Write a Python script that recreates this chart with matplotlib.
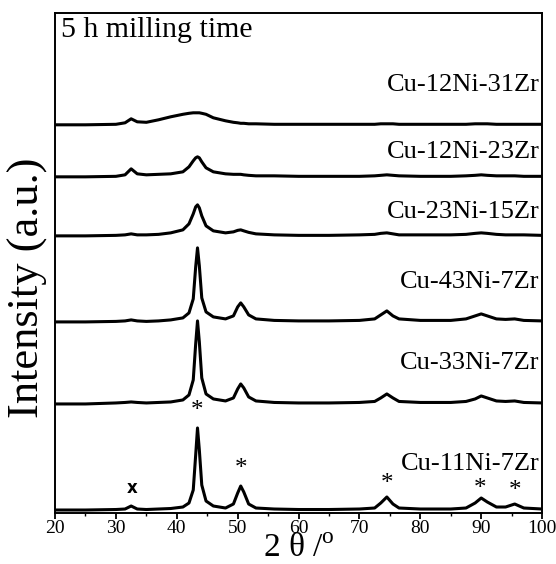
import matplotlib
matplotlib.use("Agg")
import matplotlib.pyplot as plt
from matplotlib.ticker import MultipleLocator

plt.rcParams['font.family'] = ['Liberation Serif', 'DejaVu Serif']
plt.rcParams['mathtext.fontset'] = 'custom'
plt.rcParams['mathtext.rm'] = 'Liberation Serif'

two_theta = [20, 25, 30, 31.5, 32.5, 33.5, 35, 37, 39, 41, 42, 42.7, 43.1, 43.4,
             43.7, 44.1, 44.8, 46, 48, 49.3, 50, 50.5, 51, 51.8, 53, 56, 60, 65,
             70, 72.5, 73.5, 74.5, 75.5, 76.5, 80, 85, 87.5, 89, 90, 91, 92.5, 94,
             95.5, 97, 100]

# intensities above each pattern's own baseline (a.u.)
cu11ni7zr = [0, 0, 0.5, 1, 4, 1, 0.5, 1, 1.5, 3, 7, 20, 55, 82,
             60, 25, 9, 4, 2, 6, 17, 24, 18, 6, 2, 1, 0.5, 0.5,
             1, 2, 7, 13, 6, 2, 1, 1, 2, 7, 12, 8, 3, 3,
             6, 2, 1]
cu33ni7zr = [0, 0, 1, 1.5, 2, 1.5, 1, 1.5, 2, 4, 9, 24, 60, 83,
             62, 26, 10, 5, 3, 6, 15, 20, 16, 7, 3, 1.5, 1, 1,
             1.5, 2.5, 6, 10, 6, 2.5, 1.5, 1.5, 2.5, 5, 8, 6, 3, 2.5,
             3, 1.5, 1]
cu43ni7zr = [0, 0, 0.5, 1, 2, 1, 0.5, 1, 2, 4, 9, 23, 55, 74,
             56, 24, 10, 5, 3, 6, 15, 19, 15, 7, 3, 1.5, 1, 1,
             1.5, 3, 7, 11, 6, 3, 1.5, 1.5, 3, 6, 8, 6, 3, 2.5,
             3, 1.5, 1]
cu23ni15zr = [0, 0, 0.5, 1, 2, 1, 1, 1.5, 3, 6, 12, 22, 29, 31,
              28, 20, 10, 5, 3, 4, 5.5, 6, 5, 3.5, 2, 1, 0.5, 0.5,
              1, 1.5, 2.5, 3, 2, 1, 1, 1, 1.5, 2.5, 3, 2.5, 1.5, 1,
              1, 1, 0.5]
cu12ni23zr = [0, 0, 0.5, 2, 8, 3, 2, 2.5, 3, 5, 10, 16, 19, 20,
              19, 15, 9, 5, 3, 2.5, 2.5, 2.5, 2, 1.5, 1, 1, 0.5, 0.5,
              0.5, 1, 1.5, 2, 1.5, 1, 0.5, 0.5, 1, 1.5, 2, 1.5, 1, 1,
              1, 0.5, 0.5]
cu12ni31zr = [0, 0, 0.5, 2, 6, 3, 2.5, 5, 8, 10.5, 11.5, 12, 12, 12,
              12, 11.5, 10.5, 7, 4, 2.5, 2, 1.5, 1.5, 1, 1, 0.5, 0.5, 0.5,
              0.5, 0.5, 1, 1, 1, 0.5, 0.5, 0.5, 0.5, 1, 1, 1, 0.5, 0.5,
              0.5, 0.5, 0.5]

patterns = [cu11ni7zr, cu33ni7zr, cu43ni7zr, cu23ni15zr, cu12ni23zr, cu12ni31zr]
names = ['Cu-11Ni-7Zr', 'Cu-33Ni-7Zr', 'Cu-43Ni-7Zr', 'Cu-23Ni-15Zr',
         'Cu-12Ni-23Zr', 'Cu-12Ni-31Zr']
offsets = [3, 109, 191, 277, 336, 388]
name_y = [49, 150, 231, 301, 361, 428]

# phase markers on the bottom pattern
star_pos = [43.4, 50.5, 74.5, 89.8, 95.5]
star_y = [102, 44, 29, 24, 22]
cross_pos = [32.7]
cross_y = [25]

fig = plt.figure(figsize=(5.56, 5.64), dpi=100)
ax = fig.add_axes([0.099, 0.0904, 0.876, 0.887])

for y, off in zip(patterns, offsets):
    ax.plot(two_theta, [v + off for v in y], color='black', lw=2.2)

for name, ty in zip(names, name_y):
    ax.text(99.6, ty, name, ha='right', va='center', fontsize=19)

for sx, sy in zip(star_pos, star_y):
    ax.text(sx, sy, '*', ha='center', va='center', fontsize=18)
for cx, cy in zip(cross_pos, cross_y):
    ax.text(cx, cy, 'x', ha='center', va='center', fontsize=12,
            family='DejaVu Sans', fontweight='bold')

ax.text(21.0, 483, '5 h milling time', ha='left', va='center', fontsize=21.5)

ax.set_xlim(20, 100)
ax.set_ylim(0, 500)
ax.set_yticks([])
ax.xaxis.set_major_locator(MultipleLocator(10))
ax.xaxis.set_minor_locator(MultipleLocator(5))
ax.tick_params(axis='x', which='major', direction='out', length=4, width=1.3,
               labelsize=14, pad=1)
ax.tick_params(axis='x', which='minor', direction='out', length=2.5, width=1.0)
for s in ax.spines.values():
    s.set_linewidth(1.4)

ax.set_xlabel('2 θ /$^{\\rm o}$', fontsize=24)
ax.xaxis.set_label_coords(0.5, -0.072)
ax.xaxis.label.set_va('center')
ax.set_ylabel('Intensity (a.u.)', fontsize=32)
ax.yaxis.set_label_coords(-0.055, 0.45)
ax.yaxis.label.set_va('center')

fig.savefig('out.png', dpi=100)
